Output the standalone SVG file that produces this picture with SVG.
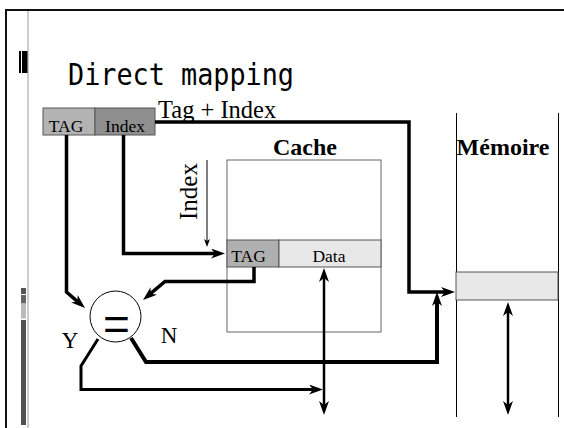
<svg xmlns="http://www.w3.org/2000/svg" width="564" height="428" viewBox="0 0 564 428">
<style>
.serif{font-family:"Liberation Serif","Times New Roman",serif;fill:#000}
.cell{stroke:#555;stroke-width:1}
.wire{fill:none;stroke:#000;stroke-linejoin:miter}
</style>
<defs>
<marker id="ah" viewBox="0 0 14 10" refX="5" refY="5" markerWidth="14" markerHeight="10" markerUnits="userSpaceOnUse" orient="auto-start-reverse">
<path d="M0,0 L14,5 L0,10 L4,5 Z" fill="#000"/>
</marker>
<marker id="ahs" viewBox="0 0 8 6" refX="2" refY="3" markerWidth="8" markerHeight="6" markerUnits="userSpaceOnUse" orient="auto">
<path d="M0,0 L8,3 L0,6 L2,3 Z" fill="#000"/>
</marker>
</defs>
<rect width="564" height="428" fill="#fff"/>
<g id="frame">
<line x1="5" y1="10" x2="564" y2="10" stroke="#111" stroke-width="2"/>
<line x1="6" y1="9" x2="6" y2="428" stroke="#111" stroke-width="2"/>
<line x1="28" y1="11" x2="28" y2="428" stroke="#aaa" stroke-width="1.2"/>
<rect x="19" y="51" width="2" height="22" fill="#000"/>
<rect x="22" y="51" width="5.5" height="22" fill="#000"/>
<rect x="21" y="288" width="5" height="6" fill="#555"/>
<rect x="21" y="295" width="5" height="8.5" fill="#666"/>
<rect x="21" y="304" width="5" height="14.5" fill="#bbb"/>
<rect x="21" y="320" width="5" height="105" fill="#505050"/>
</g>
<text id="title" x="68" y="85" font-family="'DejaVu Sans Mono','Liberation Mono',monospace" font-size="31" textLength="226" lengthAdjust="spacingAndGlyphs">Direct mapping</text>
<g id="address">
<rect class="cell" x="43" y="108" width="52" height="27" fill="#b3b3b3"/>
<rect class="cell" x="95" y="108" width="60" height="27" fill="#8f8f8f"/>
<text class="serif" x="66" y="131.5" font-size="17.5" text-anchor="middle">TAG</text>
<text class="serif" x="125" y="131.5" font-size="17.5" text-anchor="middle">Index</text>
</g>
<g id="cache">
<rect x="227" y="160" width="154" height="172" fill="#fff" stroke="#666" stroke-width="1"/>
<rect class="cell" x="227" y="240" width="52" height="27" fill="#b0b0b0"/>
<rect class="cell" x="279" y="240" width="102" height="27" fill="#e8e8e8"/>
<text class="serif" x="248.5" y="262" font-size="17.5" text-anchor="middle">TAG</text>
<text class="serif" x="329" y="262" font-size="17.5" text-anchor="middle">Data</text>
<text class="serif" x="305" y="155" font-size="24" font-weight="bold" text-anchor="middle">Cache</text>
</g>
<g id="memory">
<line x1="456.5" y1="113" x2="456.5" y2="417" stroke="#000" stroke-width="1"/>
<line x1="558.5" y1="113" x2="558.5" y2="417" stroke="#000" stroke-width="1"/>
<rect class="cell" x="456" y="272" width="102" height="28" fill="#e8e8e8"/>
<text class="serif" x="503" y="155" font-size="24" font-weight="bold" text-anchor="middle">Mémoire</text>
</g>
<g id="comparator">
<circle cx="115.5" cy="316.5" r="25.5" fill="#fff" stroke="#000" stroke-width="1"/>
<text x="116.5" y="340" font-family="'Liberation Sans',Arial,sans-serif" font-size="46" text-anchor="middle">=</text>
<text class="serif" x="70" y="348" font-size="23" text-anchor="middle">Y</text>
<text class="serif" x="169" y="343" font-size="23" text-anchor="middle">N</text>
</g>
<g id="labels">
<text class="serif" x="158" y="118" font-size="24.5">Tag + Index</text>
<text class="serif" transform="translate(196.5,220) rotate(-90)" font-size="25">Index</text>
</g>
<g id="connectors">
<path class="wire" d="M155,122 H409 V292 H446" stroke-width="3.5" marker-end="url(#ah)"/>
<path class="wire" d="M123.5,135 V253.5 H216" stroke-width="3.5" marker-end="url(#ah)"/>
<path class="wire" d="M66.5,135 V292 L78.2,302.1" stroke-width="3.5" marker-end="url(#ah)"/>
<path class="wire" d="M254,267 V281.5 H165 L149.9,294.2" stroke-width="3.5" marker-end="url(#ah)"/>
<path class="wire" d="M98,339 L81,366 V389.5 H314" stroke-width="3" marker-end="url(#ah)"/>
<path class="wire" d="M131,338 L146,362 H437 V301" stroke-width="4" marker-end="url(#ah)"/>
<path class="wire" d="M324,277 V406" stroke-width="2.5" marker-start="url(#ah)" marker-end="url(#ah)"/>
<path class="wire" d="M508,311 V406" stroke-width="2.5" marker-start="url(#ah)" marker-end="url(#ah)"/>
<path class="wire" d="M207,160 V241" stroke-width="1" marker-end="url(#ahs)"/>
</g>
</svg>
